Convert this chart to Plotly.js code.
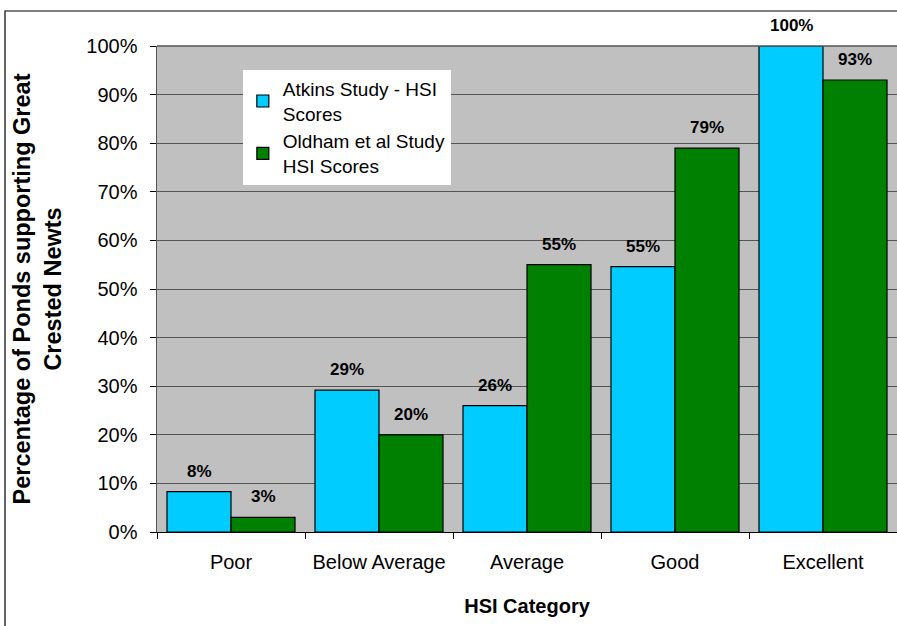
<!DOCTYPE html>
<html>
<head>
<meta charset="utf-8">
<script src="https://cdn.plot.ly/plotly-3.0.1.min.js"></script>
<style>html,body{margin:0;padding:0;background:#fff;}#chart{width:897px;height:626px;}</style>
</head>
<body>
<div id="chart"></div>
<script>
const categories = ["Poor", "Below Average", "Average", "Good", "Excellent"];
const atkins = [8.3, 29.2, 26, 54.6, 100];
const oldham = [3, 20, 55, 79, 93];
const seriesNames = ["Atkins Study - HSI<br>Scores", "Oldham et al Study<br>HSI Scores"];
const yTicks = [0, 10, 20, 30, 40, 50, 60, 70, 80, 90, 100];

const font = "Arial, 'Liberation Sans', sans-serif";
const labelFont = {family: font, size: 17, color: "#000"};

const traces = [
  {type: "bar", x: categories, y: atkins, name: seriesNames[0],
   marker: {color: "#00CCFF", line: {color: "#000", width: 1.2}}, textposition: "none"},
  {type: "bar", x: categories, y: oldham, name: seriesNames[1],
   marker: {color: "#008000", line: {color: "#000", width: 1.2}}, textposition: "none"}
];

// data labels above bars, built from the series arrays
const annotations = [];
[[atkins, -32], [oldham, 32]].forEach(([vals, dx]) => {
  vals.forEach((v, i) => {
    annotations.push({x: categories[i], y: v, xref: "x", yref: "y", xshift: dx, yshift: 9,
      yanchor: "bottom", showarrow: false, text: "<b>" + Math.round(v) + "%</b>", font: labelFont});
  });
});

const layout = {
  width: 897, height: 626,
  margin: {l: 157, r: 0, t: 46, b: 94},
  paper_bgcolor: "#fff", plot_bgcolor: "#C0C0C0",
  barmode: "group", bargap: 0.135, bargroupgap: 0,
  font: {family: font, color: "#000"},
  showlegend: true,
  legend: {x: 0.116, y: 0.951, xanchor: "left", yanchor: "top", bgcolor: "#fff",
           font: {family: font, size: 19, color: "#000"}, tracegroupgap: 0, itemwidth: 30},
  xaxis: {type: "category", tickson: "boundaries", ticks: "outside", ticklen: 6, tickcolor: "#000",
          tickfont: {family: font, size: 20}, ticklabelstandoff: 12,
          showline: true, linecolor: "#000", linewidth: 1,
          title: {text: "<b>HSI Category</b>", font: {family: font, size: 20}, standoff: 26},
          automargin: false},
  yaxis: {range: [0, 100], tickvals: yTicks, ticktext: yTicks.map(v => v + "%"),
          ticks: "outside", ticklen: 6, tickcolor: "#000", tickfont: {family: font, size: 20},
          ticklabelstandoff: 8,
          showgrid: true, gridcolor: "#555", gridwidth: 1,
          showline: true, linecolor: "#555", linewidth: 1.5, zeroline: false,
          title: {text: "<b>Percentage of Ponds supporting Great<br>Crested Newts</b>", font: {family: font, size: 23.5}, standoff: 18},
          automargin: false},
  annotations: annotations,
  shapes: [
    {type: "rect", xref: "paper", yref: "paper", x0: -0.2054, x1: 1.1, y0: -0.35, y1: 1.072,
     line: {color: "#000", width: 1.2}, fillcolor: "rgba(0,0,0,0)", layer: "below"},
    {type: "line", xref: "paper", yref: "paper", x0: 0, x1: 1, y0: 1, y1: 1, line: {color: "#555", width: 1.5}}
  ]
};

Plotly.newPlot("chart", traces, layout, {displayModeBar: false, staticPlot: true});
</script>
</body>
</html>
